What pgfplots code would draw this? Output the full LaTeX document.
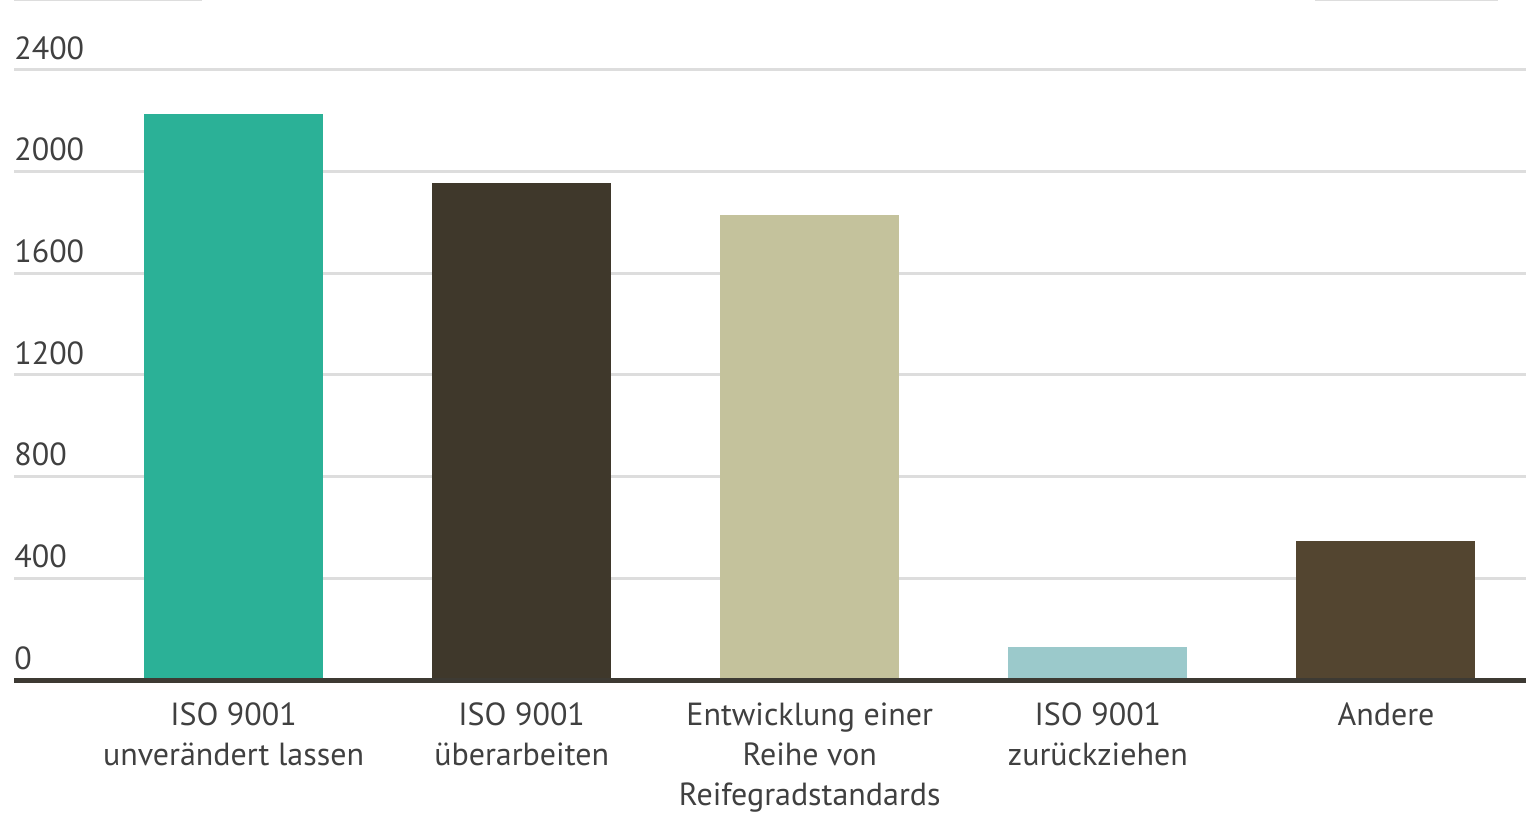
\documentclass[border=0pt]{standalone}
\usepackage{pgfplots}
\pgfplotsset{compat=1.18}
\usepackage{fontspec}
\setmainfont{PT Sans}
\definecolor{txt}{HTML}{404040}
\definecolor{gridc}{HTML}{DDDDDD}
\definecolor{axc}{HTML}{3D3A33}
\definecolor{c1}{HTML}{2BB197}
\definecolor{c2}{HTML}{3F382B}
\definecolor{c3}{HTML}{C4C29C}
\definecolor{c4}{HTML}{9BC9CB}
\definecolor{c5}{HTML}{534530}
\begin{document}
\begin{tikzpicture}
\begin{axis}[
  scale only axis,
  width=756pt, height=340pt,
  xmin=-0.762, xmax=4.486,
  ymin=0, ymax=2675,
  ybar, bar width=89.5pt, bar shift=0pt,
  axis line style={draw=none},
  axis x line*=bottom, axis y line*=left,
  major tick length=0pt,
  ytick={0,400,...,2400},
  /pgf/number format/.cd, 1000 sep={}, assume math mode=true, /pgfplots/.cd,
  ymajorgrids,
  grid style={line width=1.5pt, gridc},
  yticklabel style={anchor=south west, inner sep=0pt, xshift=0pt, yshift=5pt, font=\fontsize{16}{19}\selectfont, text=txt},
  xtick={0,1,2,3,4},
  xticklabels={{ISO 9001\\unverändert lassen},{ISO 9001\\überarbeiten},{Entwicklung einer\\Reihe von\\Reifegradstandards},{ISO 9001\\zurückziehen},{Andere}},
  xticklabel style={align=center, anchor=north, inner sep=0pt, yshift=-11pt, font=\fontsize{16}{20}\selectfont, text=txt},
  clip=false,
]
\addplot[fill=c1, draw=none] coordinates {(0,2225)};
\addplot[fill=c2, draw=none] coordinates {(1,1955)};
\addplot[fill=c3, draw=none] coordinates {(2,1829)};
\addplot[fill=c4, draw=none] coordinates {(3,130)};
\addplot[fill=c5, draw=none] coordinates {(4,547)};
\draw[axc, line width=2.5pt] (rel axis cs:0,0) -- (rel axis cs:1,0);
\draw[gridc, line width=1pt] (axis cs:-0.762,2675) -- (axis cs:-0.109,2675);
\draw[gridc, line width=1pt] (axis cs:3.753,2675) -- (axis cs:4.389,2675);
\end{axis}
\pgfresetboundingbox
\path[use as bounding box] (-7pt,-67.5pt) rectangle (756pt,340pt);
\end{tikzpicture}
\end{document}
